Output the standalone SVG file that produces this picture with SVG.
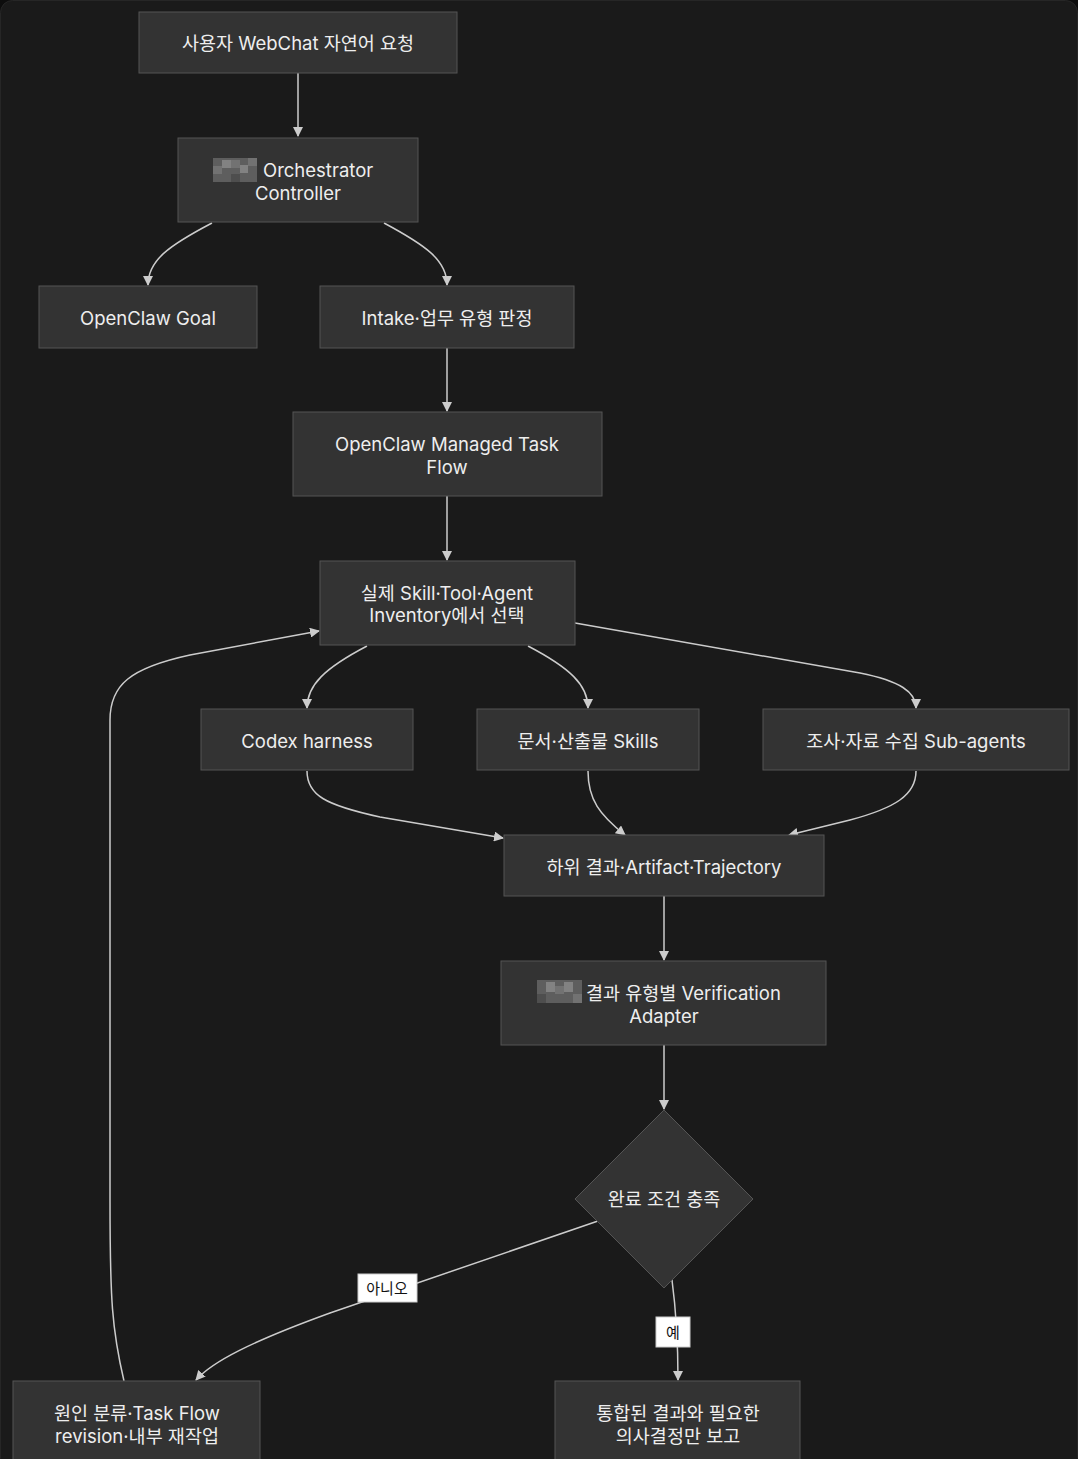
<svg xmlns="http://www.w3.org/2000/svg" width="1078" height="1459" viewBox="0 0 1078 1459">
<defs>
<style>
.node rect.b, .node polygon { fill:#333333; stroke:#555555; stroke-width:1; }
.t { font-family:"Inter","Noto Sans CJK KR",sans-serif; font-size:18.5px; fill:#eeeeee; text-anchor:middle; }
.e { fill:none; stroke:#cccccc; stroke-width:1.5; }
.lb rect { fill:#ffffff; stroke:#cccccc; stroke-width:1; }
.lb text { font-family:"Inter","Noto Sans CJK KR",sans-serif; font-size:15px; fill:#111111; text-anchor:middle; }
.m1 { fill:#5e5e5e; } .m2 { fill:#727272; } .m3 { fill:#828282; } .m4 { fill:#4e4e4e; }
</style>
<marker id="ah" viewBox="0 0 10 10" refX="9" refY="5" markerWidth="10" markerHeight="10" markerUnits="userSpaceOnUse" orient="auto">
<path d="M0,0 L10,5 L0,10 z" fill="#cccccc"/>
</marker>
</defs>
<rect x="0" y="0" width="1078" height="1459" fill="#0d0d0d"/>
<rect x="0.5" y="0.5" width="1077" height="1470" rx="12" fill="#1a1a1a" stroke="#262626"/>

<g id="edges">
<path class="e" d="M298,73 L298,136" marker-end="url(#ah)"/>
<path class="e" d="M212,223 C170,245 148,260 148,285" marker-end="url(#ah)"/>
<path class="e" d="M384,223 C425,245 447,260 447,285" marker-end="url(#ah)"/>
<path class="e" d="M447,348 L447,411" marker-end="url(#ah)"/>
<path class="e" d="M447,496 L447,560" marker-end="url(#ah)"/>
<path class="e" d="M367,646 C325,668 307,685 307,708" marker-end="url(#ah)"/>
<path class="e" d="M528,646 C570,668 588,685 588,708" marker-end="url(#ah)"/>
<path class="e" d="M575,623 L860,673 C900,681 916,692 916,708" marker-end="url(#ah)"/>
<path class="e" d="M307,771 C307,795 325,805 380,817 L503,838" marker-end="url(#ah)"/>
<path class="e" d="M588,771 C588,800 600,815 625,835" marker-end="url(#ah)"/>
<path class="e" d="M916,771 C916,795 895,808 850,820 L789,835" marker-end="url(#ah)"/>
<path class="e" d="M664,896 L664,960" marker-end="url(#ah)"/>
<path class="e" d="M664,1045 L664,1109" marker-end="url(#ah)"/>
<path class="e" d="M598,1221 L330,1313 C250,1342 212,1362 196,1380" marker-end="url(#ah)"/>
<path class="e" d="M672,1280 C676,1310 678,1340 678,1380" marker-end="url(#ah)"/>
<path class="e" d="M124,1381 C112,1330 110,1300 110,1200 L110,720 C110,685 130,668 190,655 L319,631" marker-end="url(#ah)"/>
</g>

<g id="n1" class="node"><rect class="b" x="139" y="12" width="318" height="61"/><text class="t" x="298" y="50">사용자 WebChat 자연어 요청</text></g>

<g id="n2" class="node"><rect class="b" x="178" y="138" width="240" height="84"/>
<g>
<rect class="m1" x="213" y="158" width="44" height="24"/>
<rect class="m3" x="222" y="160" width="9" height="8"/>
<rect class="m2" x="231" y="160" width="9" height="8"/>
<rect class="m3" x="240" y="165" width="8" height="8"/>
<rect class="m2" x="213" y="166" width="9" height="8"/>
<rect class="m4" x="231" y="174" width="9" height="8"/>
<rect class="m2" x="248" y="158" width="9" height="8"/>
</g>
<text class="t" x="263" y="177" style="text-anchor:start">Orchestrator</text>
<text class="t" x="298" y="200">Controller</text></g>

<g id="n3" class="node"><rect class="b" x="39" y="286" width="218" height="62"/><text class="t" x="148" y="325">OpenClaw Goal</text></g>

<g id="n4" class="node"><rect class="b" x="320" y="286" width="254" height="62"/><text class="t" x="447" y="325">Intake·업무 유형 판정</text></g>

<g id="n5" class="node"><rect class="b" x="293" y="412" width="309" height="84"/><text class="t" x="447" y="451">OpenClaw Managed Task</text><text class="t" x="447" y="474">Flow</text></g>

<g id="n6" class="node"><rect class="b" x="320" y="561" width="255" height="84"/><text class="t" x="447" y="600">실제 Skill·Tool·Agent</text><text class="t" x="447" y="622">Inventory에서 선택</text></g>

<g id="n7" class="node"><rect class="b" x="201" y="709" width="212" height="61"/><text class="t" x="307" y="748">Codex harness</text></g>

<g id="n8" class="node"><rect class="b" x="477" y="709" width="222" height="61"/><text class="t" x="588" y="748">문서·산출물 Skills</text></g>

<g id="n9" class="node"><rect class="b" x="763" y="709" width="306" height="61"/><text class="t" x="916" y="748">조사·자료 수집 Sub-agents</text></g>

<g id="n10" class="node"><rect class="b" x="504" y="835" width="320" height="61"/><text class="t" x="664" y="874">하위 결과·Artifact·Trajectory</text></g>

<g id="n11" class="node"><rect class="b" x="501" y="961" width="325" height="84"/>
<g>
<rect class="m1" x="537" y="980" width="45" height="23"/>
<rect class="m3" x="546" y="982" width="9" height="10"/>
<rect class="m3" x="564" y="982" width="9" height="10"/>
<rect class="m2" x="555" y="986" width="9" height="8"/>
<rect class="m4" x="537" y="994" width="9" height="9"/>
<rect class="m2" x="573" y="994" width="9" height="9"/>
</g>
<text class="t" x="586" y="1000" style="text-anchor:start">결과 유형별 Verification</text>
<text class="t" x="664" y="1023">Adapter</text></g>

<g id="n12" class="node"><polygon points="664,1110 753,1199 664,1288 575,1199"/><text class="t" x="664" y="1206">완료 조건 충족</text></g>

<g id="n13" class="node"><rect class="b" x="13" y="1381" width="247" height="84"/><text class="t" x="137" y="1420">원인 분류·Task Flow</text><text class="t" x="137" y="1443">revision·내부 재작업</text></g>

<g id="n14" class="node"><rect class="b" x="555" y="1381" width="245" height="84"/><text class="t" x="678" y="1420">통합된 결과와 필요한</text><text class="t" x="678" y="1443">의사결정만 보고</text></g>

<g id="labels">
<g class="lb"><rect x="358" y="1274" width="59" height="28"/><text x="387" y="1294">아니오</text></g>
<g class="lb"><rect x="656" y="1317" width="34" height="30"/><text x="673" y="1338">예</text></g>
</g>
</svg>
